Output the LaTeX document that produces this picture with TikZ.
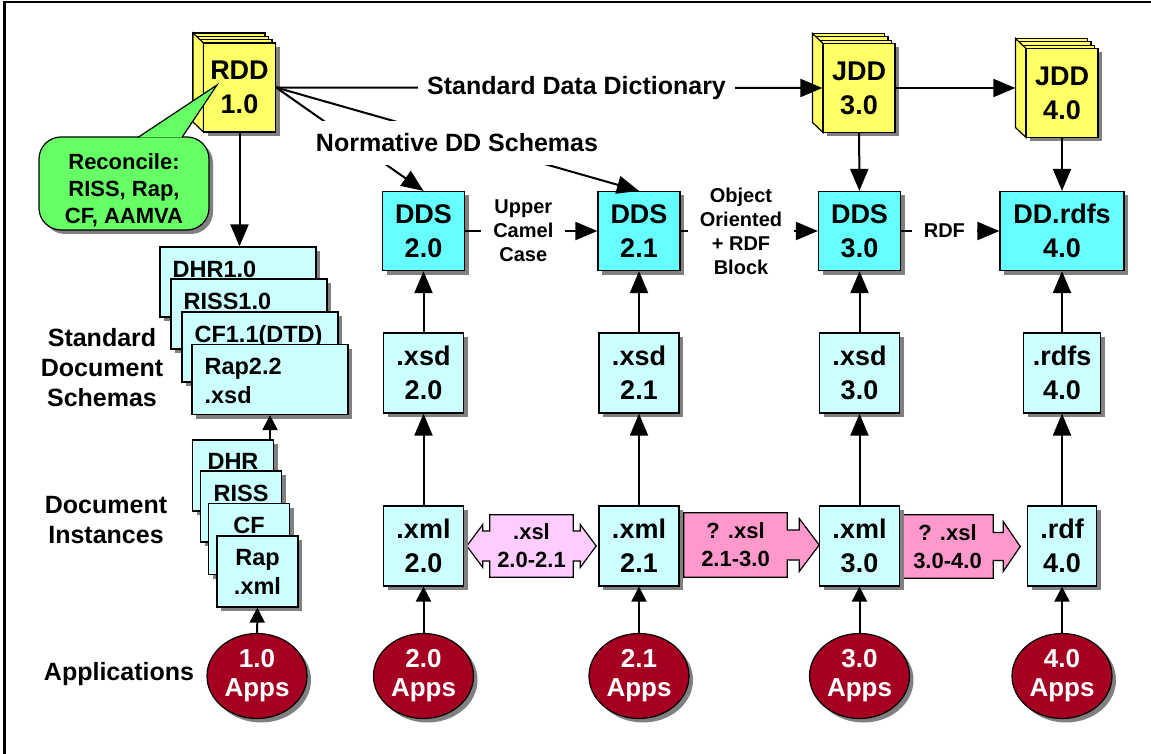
\documentclass[tikz,border=0pt]{standalone}
\usepackage{fontspec}
\setmainfont{Liberation Sans}
\usetikzlibrary{arrows.meta, calc, shapes.geometric, shadows, backgrounds}

\definecolor{bookyellow}{HTML}{FFFF66}
\definecolor{ddscyan}{HTML}{66FFFF}
\definecolor{filecyan}{HTML}{CCFFFF}
\definecolor{notegreen}{HTML}{66FF66}
\definecolor{xslpale}{HTML}{FFCCFF}
\definecolor{xslpink}{HTML}{FF99CC}
\definecolor{appred}{HTML}{A50021}
\definecolor{shadowgray}{HTML}{808080}

\newcommand{\boxfont}{\bfseries\fontsize{27}{34}\selectfont}
\newcommand{\lblfont}{\bfseries\fontsize{25}{30}\selectfont}
\newcommand{\smlfont}{\bfseries\fontsize{20}{24}\selectfont}
\newcommand{\xslfont}{\bfseries\fontsize{22}{28}\selectfont}
\newcommand{\docfont}{\bfseries\fontsize{23.5}{29}\selectfont}
\newcommand{\notefont}{\bfseries\fontsize{22}{27}\selectfont}
\newcommand{\appfont}{\bfseries\fontsize{26}{29}\selectfont}

\tikzset{
  dropsh/.style={drop shadow={shadow xshift=4pt, shadow yshift=-4pt, fill=shadowgray, opacity=1}},
  conn/.style={line width=2pt, -{Triangle[length=22pt, width=18pt]}},
  smallconn/.style={line width=2pt, -{Triangle[length=15pt, width=15pt]}},
  bookpage/.style={draw, line width=1.2pt, fill=bookyellow},
  bookfront/.style={bookpage, dropsh, minimum width=72pt, minimum height=89pt, inner sep=0pt, font=\boxfont, align=center},
  ddsbox/.style={draw, line width=1.2pt, fill=ddscyan, dropsh, minimum width=82pt, minimum height=79pt, inner sep=0pt, font=\boxfont, align=center},
  filebox/.style={ddsbox, fill=filecyan, minimum width=80pt, minimum height=80pt},
  schemabox/.style={draw, line width=1.2pt, fill=filecyan, dropsh, minimum width=156pt, minimum height=70pt, inner sep=0pt},
  instbox/.style={schemabox, minimum width=81pt, minimum height=71pt},
  schematext/.style={anchor=north west, font=\docfont, align=left, inner xsep=13pt, inner ysep=14pt},
  insttext/.style={anchor=north, font=\docfont, align=center, inner xsep=0pt, inner ysep=14pt},
  notebox/.style={draw, line width=1.2pt, fill=notegreen, rounded corners=22pt, dropsh, minimum width=170pt, minimum height=93pt},
  appnode/.style={ellipse, draw, line width=1.2pt, fill=appred, dropsh, minimum width=100pt, minimum height=85pt, inner sep=0pt, text=white, font=\appfont, align=center},
  xslbox/.style={inner sep=0pt, font=\xslfont, align=center},
  xsloutline/.style={draw, line width=1.2pt},
  rowlabel/.style={font=\lblfont, align=center},
  steplabel/.style={font=\smlfont, align=center, fill=white, inner xsep=12pt, inner ysep=2pt},
}

% stacked dictionary pages: name, centre, text
\newcommand{\ddbook}[3]{%
  \coordinate (#1-c) at #2;
  \foreach \pg in {3,2,1}
    \draw[bookpage, dropsh] ($(#1-c)+(-36-3.5*\pg,-44.5-3.3*\pg)$) rectangle ++(72,89);
  \draw[bookpage] ($(#1-c)+(-46.5,-54.5)$) -- ($(#1-c)+(-36,-44.5)$) -- ++(0,89) -- ++(-10.5,-10) -- cycle;
  \node[bookfront] (#1) at (#1-c) {#3};
}

\begin{document}
\begin{tikzpicture}[x=1pt, y=-1pt]
\useasboundingbox (0,0) rectangle (1151,754);
\draw[line width=2.5pt] (4.7,2.2) rectangle (1175,780);

% dictionaries
\ddbook{rdd}{(239.5,87.5)}{RDD\\1.0}
\ddbook{jdd30}{(859,88)}{JDD\\3.0}
\ddbook{jdd40}{(1062,93)}{JDD\\4.0}

% schema columns
\node[ddsbox] (dds20) at (423.5,231) {DDS\\2.0};
\node[ddsbox] (dds21) at (639,231) {DDS\\2.1};
\node[ddsbox] (dds30) at (859.5,231) {DDS\\3.0};
\node[ddsbox, minimum width=124pt] (dds40) at (1062,231) {DD.rdfs\\4.0};

\node[filebox] (xsd20) at (423.5,373) {.xsd\\2.0};
\node[filebox] (xsd21) at (639,373) {.xsd\\2.1};
\node[filebox] (xsd30) at (859.5,373) {.xsd\\3.0};
\node[filebox, minimum width=77pt] (rdfs40) at (1062,373) {.rdfs\\4.0};

\node[filebox] (xml20) at (423.5,546) {.xml\\2.0};
\node[filebox] (xml21) at (639,546) {.xml\\2.1};
\node[filebox] (xml30) at (859.5,546) {.xml\\3.0};
\node[filebox, minimum width=69pt] (rdf40) at (1062,546) {.rdf\\4.0};

\node[appnode] (app10) at (257,676) {1.0\\Apps};
\node[appnode] (app20) at (423.5,676) {2.0\\Apps};
\node[appnode] (app21) at (639,676) {2.1\\Apps};
\node[appnode] (app30) at (859.5,676) {3.0\\Apps};
\node[appnode] (app40) at (1062,676) {4.0\\Apps};

% transforms between instance versions
\node[xslbox, minimum width=83pt, minimum height=62pt] (xsl2021) at (531.5,546) {.xsl\\2.0-2.1};
\node[xslbox, minimum width=103pt, minimum height=64pt] (xsl2130) at (735.5,545) {? .xsl\\2.1-3.0};
\node[xslbox, minimum width=91pt, minimum height=63pt] (xsl3040) at (947.5,546.5) {? .xsl\\3.0-4.0};
\begin{scope}[on background layer]
\draw[xsloutline, fill=xslpale] (xsl2021.north west) -- (xsl2021.north east)
  -- ([shift={(0,-15)}]xsl2021.east) -- ++(7,0) -- ++(0,-6.5) -- ([shift={(23,0)}]xsl2021.east)
  -- ([shift={(7,21.5)}]xsl2021.east) -- ++(0,-6.5) -- ++(-7,0) -- (xsl2021.south east)
  -- (xsl2021.south west) -- ([shift={(0,15)}]xsl2021.west) -- ++(-7,0) -- ++(0,6.5)
  -- ([shift={(-23,0)}]xsl2021.west) -- ([shift={(-7,-21.5)}]xsl2021.west) -- ++(0,6.5) -- ++(7,0) -- cycle;
\draw[xsloutline, fill=xslpink] (xsl2130.north west) -- (xsl2130.north east)
  -- ([shift={(0,-15)}]xsl2130.east) -- ++(12,0) -- ++(0,-11.5) -- ([shift={(32,0)}]xsl2130.east)
  -- ([shift={(12,26.5)}]xsl2130.east) -- ++(0,-11.5) -- ++(-12,0) -- (xsl2130.south east)
  -- (xsl2130.south west) -- cycle;
\draw[xsloutline, fill=xslpink] (xsl3040.north west) -- (xsl3040.north east)
  -- ([shift={(0,-14)}]xsl3040.east) -- ++(10,0) -- ++(0,-11) -- ([shift={(27,0)}]xsl3040.east)
  -- ([shift={(10,25)}]xsl3040.east) -- ++(0,-11) -- ++(-10,0) -- (xsl3040.south east)
  -- (xsl3040.south west) -- cycle;
\end{scope}

% legacy schemas and documents
\node[schemabox] (dhrschema) at (238,282) {};
\node[schematext] (dhrschematxt) at (dhrschema.north west) {DHR1.0};
\node[schemabox] (rissschema) at (249,314) {};
\node[schematext] (rissschematxt) at (rissschema.north west) {RISS1.0};
\node[schemabox] (cfschema) at (260,347) {};
\node[schematext] (cfschematxt) at (cfschema.north west) {CF1.1(DTD)};
\node[schemabox] (rapschema) at (270,379.5) {};
\node[schematext] (rapschematxt) at (rapschema.north west) {Rap2.2\\.xsd};

\node[instbox] (dhrdoc) at (233,475.5) {};
\node[insttext] (dhrdoctxt) at (dhrdoc.north) {DHR};
\node[instbox] (rissdoc) at (241,506.5) {};
\node[insttext] (rissdoctxt) at (rissdoc.north) {RISS};
\node[instbox] (cfdoc) at (249,539) {};
\node[insttext] (cfdoctxt) at (cfdoc.north) {CF};
\node[instbox] (rapdoc) at (257.5,571.5) {};
\node[insttext] (rapdoctxt) at (rapdoc.north) {Rap\\.xml};

\node[rowlabel] (schemalabel) at (102,368) {Standard\\Document\\Schemas};
\node[rowlabel] (instlabel) at (106,520) {Document\\Instances};
\node[rowlabel] (applabel) at (119,674) {Applications};

% connectors
\draw[conn] (rdd.south) -- (rdd.south |- dhrschema.north);
\draw[smallconn] (rapschema.south |- dhrdoc.north) -- (rapschema.south);
\draw[smallconn] (app10) -- (rapdoc);

\draw[conn] (rdd.east) -- node[rowlabel, fill=white, inner xsep=9pt, pos=0.55] (sddlabel) {Standard Data Dictionary} (jdd30.west);
\draw[conn, shorten >=10pt] (jdd30.east) -- (jdd30.east -| jdd40.west);
\draw[conn] (jdd30) -- (dds30);
\draw[conn] (jdd40) -- (dds40);

\draw[conn] (rdd.east) -- (dds20.north);
\draw[conn] (rdd.east) -- (dds21.north);
\node[rowlabel, fill=white, minimum height=44pt, inner xsep=4pt] (ndslabel) at (457,143) {Normative DD Schemas};

\draw[conn] (dds20) -- node[steplabel, pos=0.44] (camellabel) {Upper\\Camel\\Case} (dds21);
\draw[conn] (dds21) -- node[steplabel, pos=0.44] (oolabel) {Object\\Oriented\\+ RDF\\Block} (dds30);
\draw[conn] (dds30) -- node[steplabel, pos=0.44] (rdflabel) {RDF} (dds40);

\foreach \xs/\dd/\xm/\ap in {xsd20/dds20/xml20/app20, xsd21/dds21/xml21/app21, xsd30/dds30/xml30/app30, rdfs40/dds40/rdf40/app40} {
  \draw[conn] (\xs) -- (\dd);
  \draw[conn] (\xm) -- (\xs);
  \draw[smallconn] (\ap) -- (\xm);
}

% reconciliation note
\node[notebox] (reconcile) at (124,183.5) {};
\coordinate (reconciletip) at ([shift={(-22.5,-2.5)}]rdd.center);
\filldraw[line width=1.2pt, fill=notegreen] ([shift={(14,1)}]reconcile.north) -- (reconciletip) -- ([shift={(58,1)}]reconcile.north);
\node[font=\notefont, align=center] (reconciletxt) at (124,190.5) {Reconcile:\\RISS, Rap,\\CF, AAMVA};
\end{tikzpicture}
\end{document}
